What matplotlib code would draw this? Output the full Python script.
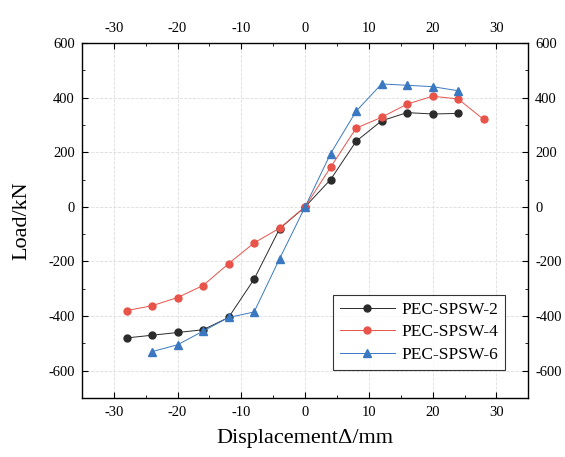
import numpy as np
import matplotlib
matplotlib.use("Agg")
import matplotlib.pyplot as plt
from matplotlib.ticker import MultipleLocator

plt.rcParams['font.family'] = ['Liberation Serif', 'DejaVu Serif']
plt.rcParams['axes.unicode_minus'] = False

x2 = [-28, -24, -20, -16, -12, -8, -4, 0, 4, 8, 12, 16, 20, 24]
y2 = [-480, -470, -460, -450, -405, -265, -80, 0, 100, 240, 315, 345, 340, 342]

x4 = [-28, -24, -20, -16, -12, -8, -4, 0, 4, 8, 12, 16, 20, 24, 28]
y4 = [-380, -362, -332, -288, -208, -132, -78, 0, 145, 288, 328, 376, 405, 395, 320]

x6 = [-24, -20, -16, -12, -8, -4, 0, 4, 8, 12, 16, 20, 24]
y6 = [-530, -505, -455, -405, -385, -190, 0, 195, 350, 450, 445, 440, 425]

labels = ["PEC-SPSW-2", "PEC-SPSW-4", "PEC-SPSW-6"]

fig = plt.figure(figsize=(5.65, 4.57), dpi=100)
ax = fig.add_axes([0.145, 0.129, 0.79, 0.777])

ax.plot(x2, y2, '-o', color='#2b2b2b', lw=0.7, ms=5, label=labels[0])
ax.plot(x4, y4, '-o', color='#e8534a', lw=0.7, ms=5, label=labels[1])
ax.plot(x6, y6, '-^', color='#3a78c2', lw=0.7, ms=5.5, label=labels[2])

ax.set_xlim(-35, 35)
ax.set_ylim(-700, 600)
ax.xaxis.set_major_locator(MultipleLocator(10))
ax.xaxis.set_minor_locator(MultipleLocator(5))
ax.yaxis.set_major_locator(MultipleLocator(200))
ax.yaxis.set_minor_locator(MultipleLocator(100))
ax.grid(True, which='major', color='#dddddd', lw=0.6, ls='--')
ax.tick_params(which='both', direction='in', top=True, right=True,
               labeltop=True, labelright=True, labelsize=10.5, pad=5)
ax.tick_params(axis='x', which='both', labeltop=True, pad=6)
ax.tick_params(which='major', length=4)
ax.tick_params(which='minor', length=2)
for s in ax.spines.values():
    s.set_linewidth(1.0)

ax.set_xlabel("DisplacementΔ/mm", fontsize=16, labelpad=7)
ax.set_ylabel("Load/kN", fontsize=16, labelpad=12)

leg = ax.legend(loc='lower right', bbox_to_anchor=(0.948, 0.08), fontsize=12.5,
                frameon=True, fancybox=False, edgecolor='black',
                handlelength=3.2, handletextpad=0.35, labelspacing=0.35,
                borderpad=0.4, borderaxespad=0)
leg.get_frame().set_linewidth(0.8)

fig.savefig("out.png", dpi=100)
